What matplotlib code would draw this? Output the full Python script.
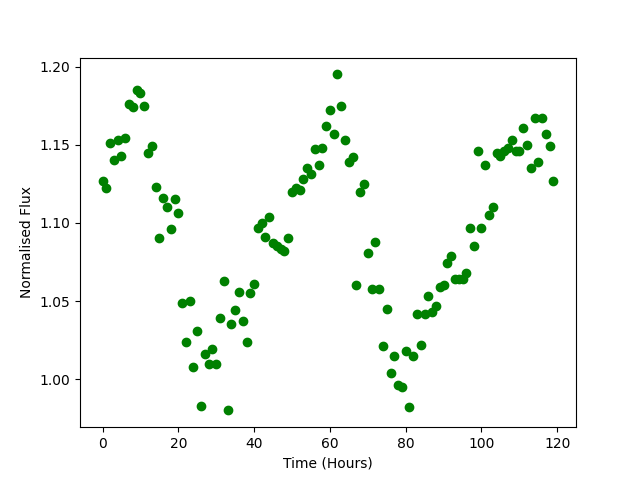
import numpy as np
import matplotlib
matplotlib.use("Agg")
import matplotlib.pyplot as plt

time_hours = list(range(120))
flux = [
    1.127, 1.122, 1.151, 1.140, 1.153, 1.143, 1.154, 1.176, 1.174, 1.185,
    1.183, 1.175, 1.145, 1.149, 1.123, 1.090, 1.116, 1.110, 1.096, 1.115,
    1.106, 1.049, 1.024, 1.050, 1.008, 1.031, 0.983, 1.016, 1.010, 1.019,
    1.010, 1.039, 1.063, 0.980, 1.035, 1.044, 1.056, 1.037, 1.024, 1.055,
    1.061, 1.097, 1.100, 1.091, 1.104, 1.087, 1.085, 1.083, 1.082, 1.090,
    1.120, 1.122, 1.121, 1.128, 1.135, 1.131, 1.147, 1.137, 1.148, 1.162,
    1.172, 1.157, 1.195, 1.175, 1.153, 1.139, 1.142, 1.060, 1.120, 1.125,
    1.081, 1.058, 1.088, 1.058, 1.021, 1.045, 1.004, 1.015, 0.996, 0.995,
    1.018, 0.982, 1.015, 1.042, 1.022, 1.042, 1.053, 1.043, 1.047, 1.059,
    1.060, 1.074, 1.079, 1.064, 1.064, 1.064, 1.068, 1.097, 1.085, 1.146,
    1.097, 1.137, 1.105, 1.110, 1.145, 1.143, 1.146, 1.148, 1.153, 1.146,
    1.146, 1.161, 1.150, 1.135, 1.167, 1.139, 1.167, 1.157, 1.149, 1.127,
]

fig, ax = plt.subplots(figsize=(6.4, 4.8), dpi=100)
ax.plot(time_hours, flux, 'o', color='green')
ax.set_xlabel('Time (Hours)')
ax.set_ylabel('Normalised Flux')
fig.savefig('out.png')
